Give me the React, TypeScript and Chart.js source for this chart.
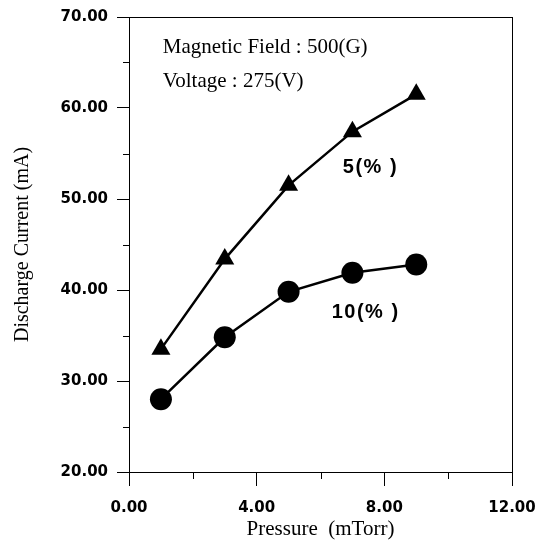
import React, { useEffect, useRef } from "react";
import { Chart, registerables } from "chart.js";

Chart.register(...registerables);

const pressure = [1, 3, 5, 7, 9];
const current5 = [33.5, 43.4, 51.5, 57.4, 61.5];
const current10 = [28, 34.8, 39.8, 41.9, 42.8];
const xTickLabels = ["0.00", "4.00", "8.00", "12.00"];
const yTickLabels = ["20.00", "30.00", "40.00", "50.00", "60.00", "70.00"];
const annotations = [
  { text: "Magnetic Field : 500(G)", x: 1.06, y: 66.6, font: "21px 'Liberation Serif'", spacing: "0px" },
  { text: "Voltage : 275(V)", x: 1.06, y: 62.9, font: "21px 'Liberation Serif'", spacing: "0px" },
  { text: "5(% )", x: 6.7, y: 53.5, font: "bold 20px 'Liberation Sans'", spacing: "1.5px" },
  { text: "10(% )", x: 6.35, y: 37.5, font: "bold 20px 'Liberation Sans'", spacing: "1.5px" },
];

const framePlugin = {
  id: "frame",
  afterDraw(chart: any) {
    const { ctx, chartArea, scales } = chart;
    ctx.save();
    ctx.strokeStyle = "#000";
    ctx.lineWidth = 1;
    ctx.strokeRect(chartArea.left + 0.5, chartArea.top + 0.5, chartArea.right - chartArea.left, chartArea.bottom - chartArea.top);
    const x = scales.x;
    const y = scales.y;
    ctx.beginPath();
    for (let v = 2; v < 12; v += 4) {
      const px = Math.round(x.getPixelForValue(v)) + 0.5;
      ctx.moveTo(px, chartArea.bottom);
      ctx.lineTo(px, chartArea.bottom + 7);
    }
    for (let v = 25; v < 70; v += 10) {
      const py = Math.round(y.getPixelForValue(v)) + 0.5;
      ctx.moveTo(chartArea.left, py);
      ctx.lineTo(chartArea.left - 6, py);
    }
    ctx.stroke();
    ctx.fillStyle = "#000";
    ctx.textBaseline = "middle";
    ctx.textAlign = "left";
    for (const a of annotations) {
      ctx.font = a.font;
      (ctx as any).letterSpacing = a.spacing;
      ctx.fillText(a.text, x.getPixelForValue(a.x), y.getPixelForValue(a.y));
    }
    ctx.restore();
  },
};

export default function App() {
  const ref = useRef<HTMLCanvasElement>(null);
  useEffect(() => {
    document.body.style.margin = "0";
    const chart = new Chart(ref.current!, {
      type: "line",
      data: {
        datasets: [
          {
            label: "5(%)",
            data: pressure.map((p, i) => ({ x: p, y: current5[i] })),
            borderColor: "#000",
            backgroundColor: "#000",
            borderWidth: 2.5,
            pointStyle: "triangle",
            pointRadius: 11,
            pointBackgroundColor: "#000",
            pointBorderWidth: 0,
            tension: 0,
          },
          {
            label: "10(%)",
            data: pressure.map((p, i) => ({ x: p, y: current10[i] })),
            borderColor: "#000",
            backgroundColor: "#000",
            borderWidth: 2.5,
            pointStyle: "circle",
            pointRadius: 11,
            pointBackgroundColor: "#000",
            pointBorderWidth: 0,
            tension: 0,
          },
        ],
      },
      options: {
        animation: false,
        responsive: false,
        layout: { padding: { top: 17, right: 29, left: 0, bottom: 0 } },
        plugins: { legend: { display: false }, tooltip: { enabled: false } },
        scales: {
          x: {
            type: "linear",
            min: 0,
            max: 12,
            border: { color: "#000", width: 1 },
            grid: {
              drawOnChartArea: false,
              tickLength: 14,
              tickColor: (c: any) => (c.tick && c.tick.value % 4 === 0 ? "#000" : "rgba(0,0,0,0)"),
            },
            ticks: {
              stepSize: 2,
              padding: 13,
              color: "#000",
              font: { family: "'DejaVu Sans'", weight: "bold", size: 15 },
              callback: (v: any) => (v % 4 === 0 ? xTickLabels[v / 4] : ""),
              maxRotation: 0,
              autoSkip: false,
            },
            title: {
              display: true,
              text: "Pressure  (mTorr)",
              color: "#000",
              font: { family: "'Liberation Serif'", size: 21 },
              padding: { top: 0, bottom: 1 },
            },
            afterFit: (s: any) => {
              s.height = 71;
              s.paddingLeft = 0;
              s.paddingRight = 0;
            },
          },
          y: {
            type: "linear",
            min: 20,
            max: 70,
            border: { color: "#000", width: 1 },
            grid: {
              drawOnChartArea: false,
              tickLength: 12,
              tickColor: (c: any) => (c.tick && c.tick.value % 10 === 0 ? "#000" : "rgba(0,0,0,0)"),
            },
            ticks: {
              stepSize: 5,
              padding: 9,
              color: "#000",
              font: { family: "'DejaVu Sans'", weight: "bold", size: 15 },
              callback: (v: any) => (v % 10 === 0 ? yTickLabels[(v - 20) / 10] : ""),
              autoSkip: false,
            },
            title: {
              display: true,
              text: "Discharge Current (mA)",
              color: "#000",
              font: { family: "'Liberation Serif'", size: 20 },
              padding: { top: 11, bottom: 0 },
            },
            afterFit: (s: any) => {
              s.width = 129;
              s.paddingTop = 0;
              s.paddingBottom = 0;
            },
          },
        },
      },
      plugins: [framePlugin],
    } as any);
    return () => chart.destroy();
  }, []);
  return (
    <div style={{ width: 541, height: 543 }}>
      <canvas ref={ref} width={541} height={543} style={{ display: "block" }} />
    </div>
  );
}
